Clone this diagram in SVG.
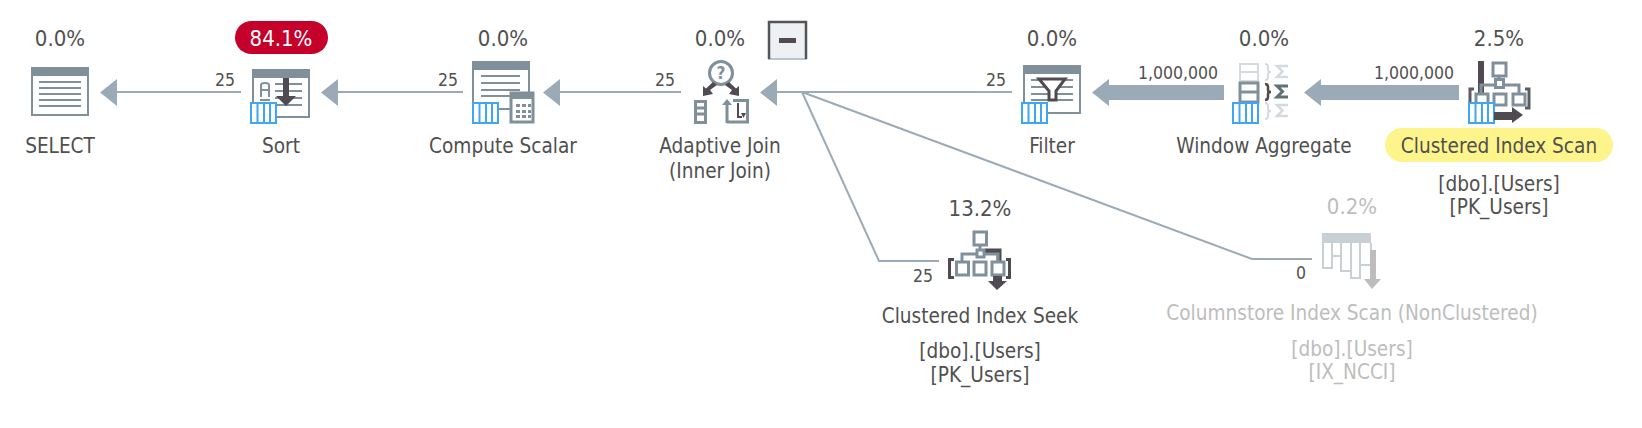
<svg xmlns="http://www.w3.org/2000/svg" width="1642" height="428" viewBox="0 0 1642 428">
<style>
text{font-family:"DejaVu Sans","Liberation Sans",sans-serif;font-stretch:condensed;text-anchor:middle;fill:#505050}
.l{font-size:20.600px}.p{font-size:22px}.r{font-size:17.500px}
.g text,text.g{fill:#bdbdbd}
.e{fill:none;stroke:#9aabb7;stroke-width:2}
.a{fill:#9aabb7}
.s{fill:none;stroke:#7f909b;stroke-width:3}
.t{fill:none;stroke:#7f909b;stroke-width:2}
.h{fill:#7f909b}
.d{fill:#4f4b50}
.w{fill:#fff;stroke:#7f909b;stroke-width:3}
.b{fill:#fff;stroke:#3ea6f4;stroke-width:2}
.f{fill:none;stroke:#d3dbe0;stroke-width:2}
.fs{fill:none;stroke:#d3dbe0;stroke-width:2.500}
.ds{fill:none;stroke:#5f7078;stroke-width:3}
.db{fill:none;stroke:#4f4b50;stroke-width:2.500}
</style>
<defs>
<g id="badge"><rect x="1" y="1" width="25" height="20" class="b"/><path d="M7.500 1V21M14 1V21M20 1V21" class="b"/></g>
<g id="win"><rect x="1" y="1" width="56" height="47" fill="#fff" stroke="#7f909b" stroke-width="2"/><rect width="58" height="9" class="h"/></g>
<path id="sigma" d="M12 1H1L6.500 6.500L1 12H12"/>
<path id="brace" d="M0 0Q3 0 3 3V6Q3 8 6 8Q3 8 3 10V13Q3 16 0 16"/>
</defs>
<rect width="1642" height="428" fill="#fff"/>
<g id="connectors">
<path class="e" d="M117 92H241M337 92H463M560 92H681M777 92H1012"/>
<path class="e" d="M802 92L879 261H939M802 92L1252 259H1312"/>
<path class="a" d="M100 92.500L117 79V106ZM321 92.500L338 79V106ZM543 92.500L560 79V106ZM760 92.500L777 79V106Z"/>
<path class="a" d="M1092 92.500L1109 79V85H1224V100H1109V106Z"/>
<path class="a" d="M1304 92.500L1321 79V85H1459V100H1321V106Z"/>
<text class="r" x="225" y="86">25</text>
<text class="r" x="448" y="86">25</text>
<text class="r" x="665" y="86">25</text>
<text class="r" x="996" y="86">25</text>
<text class="r" x="1178" y="79">1,000,000</text>
<text class="r" x="1414" y="79">1,000,000</text>
<text class="r" x="923" y="282">25</text>
<text class="r" x="1301" y="279">0</text>
</g>
<g id="node-select">
<text class="p" x="60" y="46">0.0%</text>
<use href="#win" x="31" y="67"/>
<path class="t" d="M39 82H81M39 88H81M39 94H81M39 100H81M39 106H81"/>
<text class="l" x="60" y="153">SELECT</text>
</g>
<g id="node-sort">
<rect x="235" y="21" width="93" height="33" rx="16.500" fill="#c4002b"/>
<text class="p" x="281" y="46" style="fill:#fff">84.1%</text>
<use href="#win" x="252" y="69"/>
<path class="t" d="M275 84H302M275 91H302M275 98H302M275 105H302"/>
<path d="M261 97V85Q261 83 265 83Q269 83 269 85V97M261 90H269M260 100H270" fill="none" stroke="#7f909b" stroke-width="2"/>
<path class="d" d="M283 78H289V96H296L286 106L276 96H283Z"/>
<use href="#badge" x="250" y="102"/>
<text class="l" x="281" y="153">Sort</text>
</g>
<g id="node-compute-scalar">
<text class="p" x="503" y="46">0.0%</text>
<use href="#win" x="472" y="61"/>
<path class="t" d="M481 76H520M481 83H520M481 90H520M481 96H512"/>
<use href="#badge" x="472" y="102"/>
<rect x="511" y="93" width="22" height="29" class="w"/>
<rect x="511" y="93" width="23" height="6" class="h"/>
<path d="M516 104h4v3h-4zM522 104h4v3h-4zM528 104h3v3h-3zM516 110h4v3h-4zM522 110h4v3h-4zM528 110h3v3h-3zM516 115h4v3h-4zM522 115h4v3h-4zM528 115h3v3h-3z" class="h"/>
<text class="l" x="503" y="153">Compute Scalar</text>
</g>
<g id="node-adaptive-join">
<text class="p" x="720" y="46">0.0%</text>
<circle cx="721" cy="73" r="11.500" fill="#fff" stroke="#7f909b" stroke-width="3"/>
<text x="721" y="79" style="font-size:17px;font-weight:bold;fill:#7f909b">?</text>
<path class="d" d="M713 82L717 85L710 90L713 94L703 96L703 86L706 88.500ZM729 82L725 85L732 90L729 94L739 96L739 86L736 88.500Z"/>
<rect x="695.500" y="101.500" width="10" height="21" class="w"/>
<path class="s" d="M695 108H706M695 114H706"/>
<path class="s" d="M727 123V103M733 100.500H747.500V122H727"/>
<path d="M738 103V117H742" fill="none" stroke="#4f4b50" stroke-width="2"/>
<path class="d" d="M741 113L746 113L743.500 118Z"/>
<path class="h" d="M727 99L722 105H732Z"/>
<text class="l" x="720" y="153">Adaptive Join</text>
<text class="l" x="720" y="178">(Inner Join)</text>
</g>
<g id="toggle">
<rect x="769" y="22" width="37" height="37" fill="#eef1f4" stroke="#b9c5ce" stroke-width="2"/>
<path d="M769 59V22H806V59" fill="none" stroke="#555" stroke-width="2.500"/>
<rect x="779" y="38" width="17" height="5" fill="#4f4b50"/>
</g>
<g id="node-filter">
<text class="p" x="1052" y="46">0.0%</text>
<use href="#win" x="1023" y="65"/>
<path class="t" d="M1031 80H1073M1031 87H1073M1031 94H1073M1031 100H1073"/>
<path d="M1039 79H1065L1056 91V100H1049V91Z" fill="#fff" stroke="#4f4b50" stroke-width="3"/>
<use href="#badge" x="1021" y="102"/>
<text class="l" x="1052" y="153">Filter</text>
</g>
<g id="node-window-aggregate">
<text class="p" x="1264" y="46">0.0%</text>
<rect x="1240" y="64" width="18" height="17" fill="#fff" stroke="#d3dbe0" stroke-width="2"/>
<path class="f" d="M1240 72H1258"/>
<rect x="1240" y="83" width="18" height="19" fill="#fff" stroke="#7f909b" stroke-width="3"/>
<path class="s" d="M1240 92H1258"/>
<use href="#badge" x="1232" y="102"/>
<use href="#brace" x="1265" y="64" class="f"/>
<use href="#brace" x="1265" y="84" class="db"/>
<use href="#brace" x="1265" y="103" class="f"/>
<use href="#sigma" x="1276" y="65" class="fs"/>
<use href="#sigma" x="1276" y="85" class="ds"/>
<use href="#sigma" x="1276" y="104" class="fs"/>
<text class="l" x="1264" y="153">Window Aggregate</text>
</g>
<g id="node-clustered-index-scan">
<text class="p" x="1499" y="46">2.5%</text>
<rect x="1478" y="61" width="6" height="40" class="d"/>
<path class="s" d="M1499 77V80M1481 93V85H1519V93"/>
<rect x="1493" y="63" width="13" height="13" class="w"/>
<rect x="1495.500" y="79.500" width="8" height="8" class="w"/>
<rect x="1476" y="94" width="12" height="11" class="w"/>
<rect x="1494" y="94" width="12" height="11" class="w"/>
<rect x="1513" y="94" width="12" height="11" class="w"/>
<path d="M1474 89H1470V104M1525 89H1529V108H1525" fill="none" stroke="#5d5a60" stroke-width="3"/>
<use href="#badge" x="1468" y="102"/>
<path class="d" d="M1494 112H1512V107L1523 115L1512 123V120H1494Z"/>
<rect x="1385" y="128" width="228" height="34" rx="17" fill="#fdf58b"/>
<text class="l" x="1499" y="153">Clustered Index Scan</text>
<text class="l" x="1499" y="191">[dbo].[Users]</text>
<text class="l" x="1499" y="214">[PK_Users]</text>
</g>
<g id="node-clustered-index-seek">
<text class="p" x="980" y="216">13.2%</text>
<path d="M985 251H999V262" fill="none" stroke="#4f4b50" stroke-width="5"/>
<path class="s" d="M980 245V252M962 262V254H998V262"/>
<rect x="974" y="232" width="12.500" height="13" class="w"/>
<rect x="977" y="250" width="7" height="7" class="w"/>
<rect x="956.500" y="262" width="12" height="13" class="w"/>
<rect x="974" y="262" width="12" height="13" class="w"/>
<rect x="992" y="262" width="12" height="13" class="w"/>
<path class="d" d="M948 258H954V261H951V276H954V279H948ZM1006 258H1011V279H1006V276H1008V261H1006Z"/>
<path class="d" d="M993 276H1002V281H1007L997 290L988 281H993Z"/>
<text class="l" x="980" y="323">Clustered Index Seek</text>
<text class="l" x="980" y="358">[dbo].[Users]</text>
<text class="l" x="980" y="382">[PK_Users]</text>
</g>
<g id="node-columnstore-index-scan" class="g">
<text class="p" x="1352" y="214">0.2%</text>
<rect x="1322" y="233" width="49" height="10" fill="#c8d0d6"/>
<path d="M1323 243V268H1332V243M1332 256H1341M1341 243V271H1351V243M1351 243V278H1360V243M1360 243V265H1371V243" fill="#fff" stroke="#c8d0d6" stroke-width="2"/>
<path fill="#bdbdbd" d="M1370 250H1376V279H1381L1372 289L1364 279H1370Z"/>
<text class="l" x="1352" y="320">Columnstore Index Scan (NonClustered)</text>
<text class="l" x="1352" y="356">[dbo].[Users]</text>
<text class="l" x="1352" y="379">[IX_NCCI]</text>
</g>
</svg>
